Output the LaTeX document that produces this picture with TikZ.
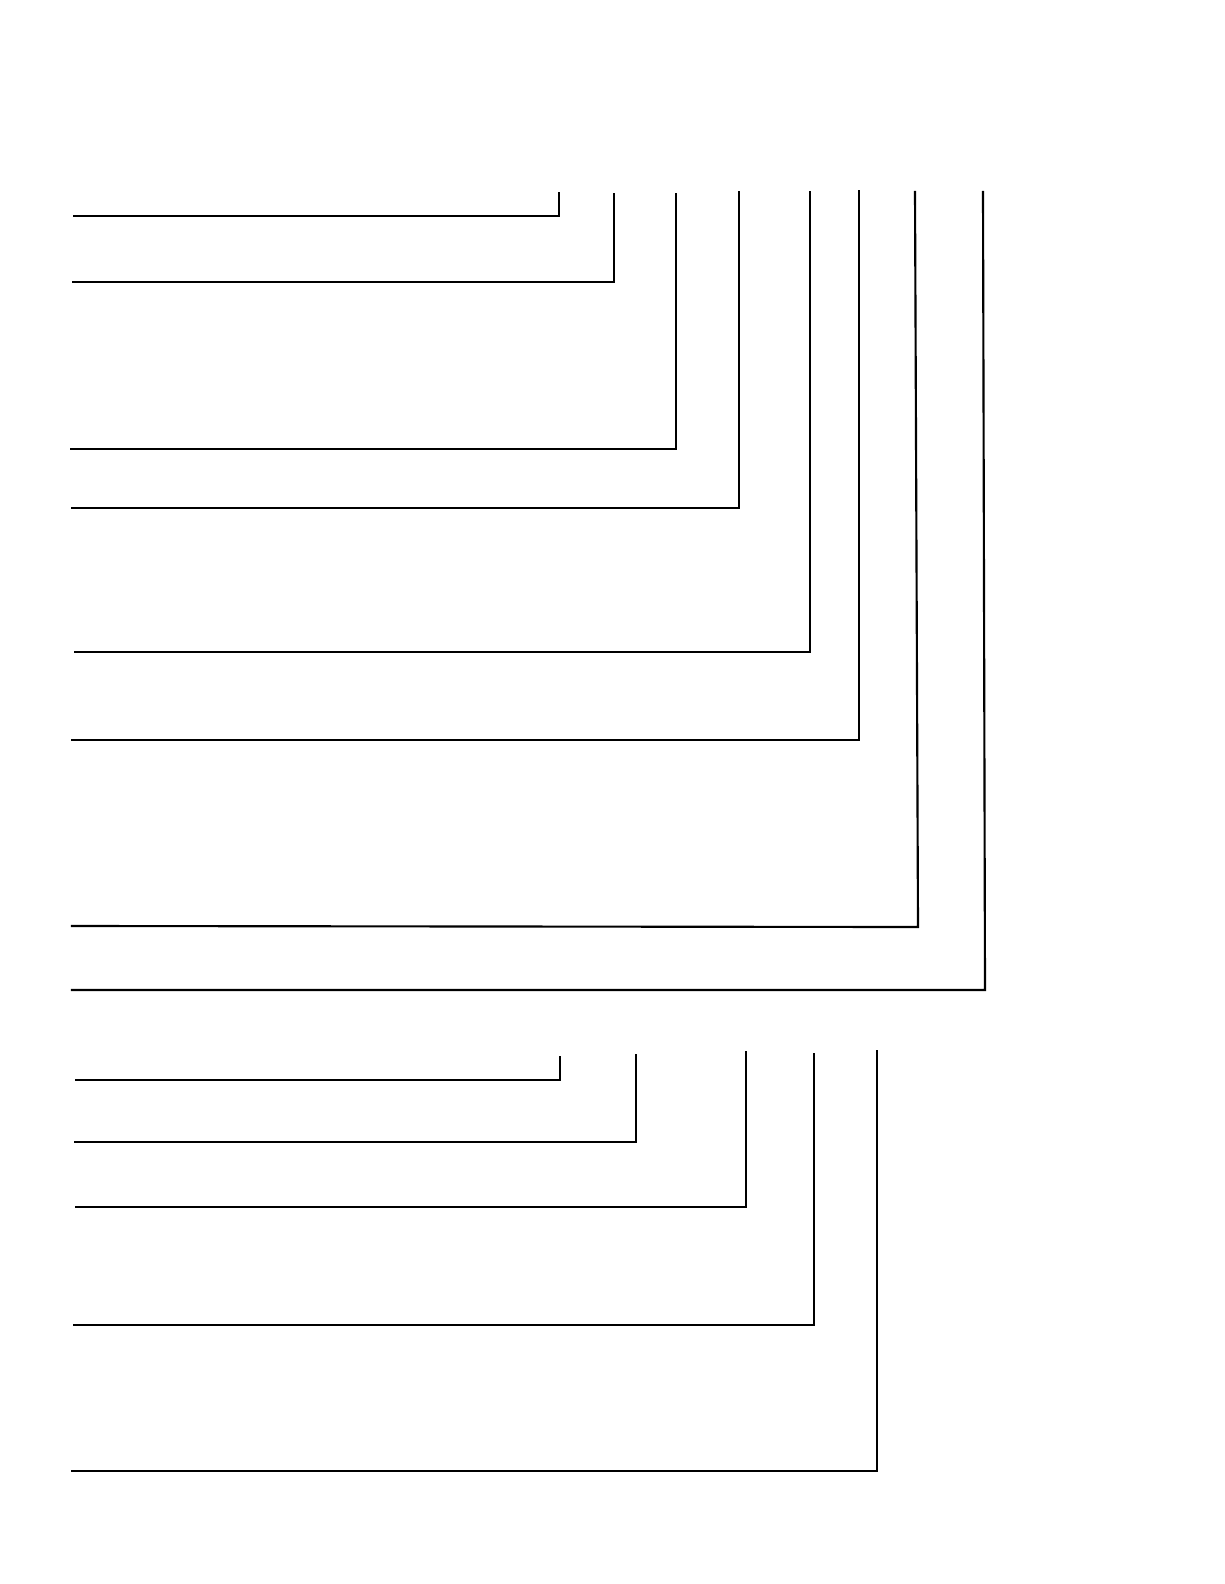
\documentclass[tikz,border=0pt]{standalone}
\begin{document}
\begin{tikzpicture}[x=0.75pt,y=-0.75pt,
  bracket/.style={draw=black,line width=1.6pt,line join=miter,line cap=rect}]
\useasboundingbox (0,0) rectangle (1224,1584);
\fill[white] (0,0) rectangle (1224,1584);
% upper group
\draw[bracket] (559,193) -- (559,216) -- (74,216);
\draw[bracket] (614,194) -- (614,282) -- (73,282);
\draw[bracket] (676,194) -- (676,449) -- (71,449);
\draw[bracket] (739,192) -- (739,508) -- (72,508);
\draw[bracket] (810,192) -- (810,652) -- (75,652);
\draw[bracket] (859,191) -- (859,740) -- (72,740);
\draw[bracket] (915,192) -- (918,927) -- (72,926);
\draw[bracket] (983,192) -- (985,990) -- (72,990);
% lower group
\draw[bracket] (560,1057) -- (560,1080) -- (76,1080);
\draw[bracket] (636,1055) -- (636,1142) -- (75,1142);
\draw[bracket] (746,1052) -- (746,1207) -- (76,1207);
\draw[bracket] (814,1054) -- (814,1325) -- (74,1325);
\draw[bracket] (877,1051) -- (877,1471) -- (72,1471);
\end{tikzpicture}
\end{document}
